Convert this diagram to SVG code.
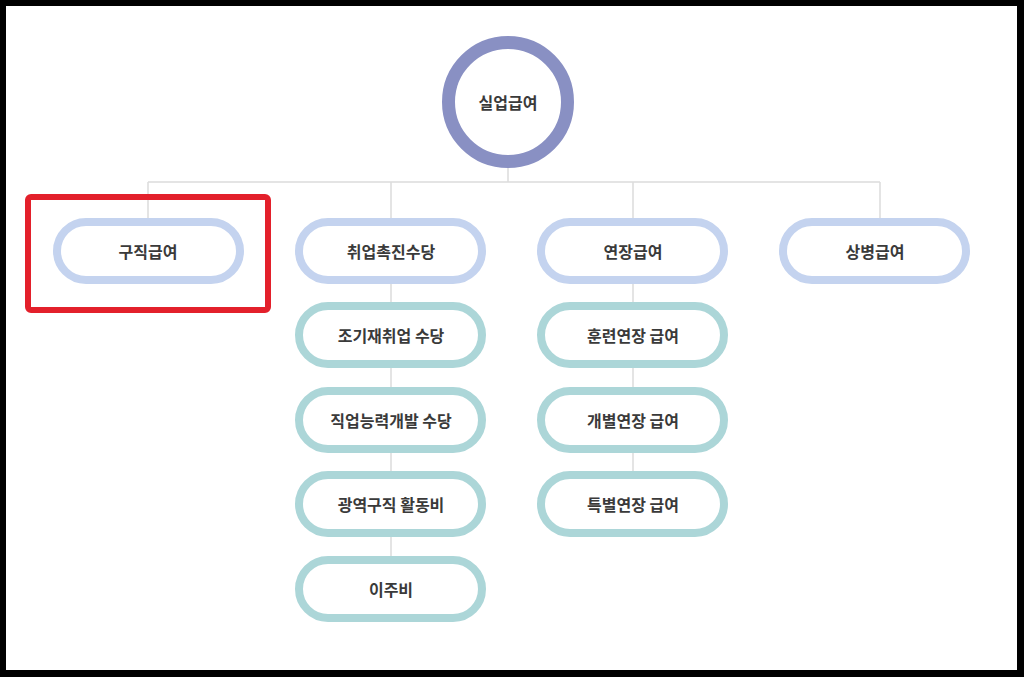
<svg xmlns="http://www.w3.org/2000/svg" width="1024" height="677" viewBox="0 0 1024 677">
<style>
.t{font-family:"Noto Sans CJK KR","Noto Sans",sans-serif;font-size:16px;font-weight:700;fill:#3a3a3a;text-anchor:middle;dominant-baseline:central}
.p1{fill:#fff;stroke:#c4d3ef;stroke-width:8}
.p2{fill:#fff;stroke:#acd6d8;stroke-width:8}
.c{stroke:#dcdcdc;stroke-width:1.5;fill:none}
</style>
<rect x="0" y="0" width="1024" height="677" fill="#000"/>
<rect x="6" y="6" width="1011" height="664" fill="#fff"/>
<g id="connectors">
<path class="c" d="M508 168V182M148 182H880M148 182V222M391 182V222M633 182V222M880 182V222"/>
<path class="c" d="M391 280V306M391 364V391M391 449V475M391 533V560"/>
<path class="c" d="M633 280V306M633 364V391M633 449V475"/>
</g>
<g id="root"><circle cx="508" cy="102" r="59.5" fill="#fff" stroke="#8990c3" stroke-width="13"/><text class="t" x="508" y="102">실업급여</text></g>
<g id="n1"><rect class="p1" x="57" y="222" width="183" height="58" rx="29"/><text class="t" x="148" y="251">구직급여</text></g>
<g id="n2"><rect class="p1" x="299" y="222" width="183" height="58" rx="29"/><text class="t" x="391" y="251">취업촉진수당</text></g>
<g id="n3"><rect class="p1" x="541" y="222" width="183" height="58" rx="29"/><text class="t" x="633" y="251">연장급여</text></g>
<g id="n4"><rect class="p1" x="783" y="222" width="183" height="58" rx="29"/><text class="t" x="875" y="251">상병급여</text></g>
<g id="n21"><rect class="p2" x="299" y="306" width="183" height="58" rx="29"/><text class="t" x="391" y="335">조기재취업 수당</text></g>
<g id="n22"><rect class="p2" x="299" y="391" width="183" height="58" rx="29"/><text class="t" x="391" y="420">직업능력개발 수당</text></g>
<g id="n23"><rect class="p2" x="299" y="475" width="183" height="58" rx="29"/><text class="t" x="391" y="504">광역구직 활동비</text></g>
<g id="n24"><rect class="p2" x="299" y="560" width="183" height="58" rx="29"/><text class="t" x="391" y="589">이주비</text></g>
<g id="n31"><rect class="p2" x="541" y="306" width="183" height="58" rx="29"/><text class="t" x="633" y="335">훈련연장 급여</text></g>
<g id="n32"><rect class="p2" x="541" y="391" width="183" height="58" rx="29"/><text class="t" x="633" y="420">개별연장 급여</text></g>
<g id="n33"><rect class="p2" x="541" y="475" width="183" height="58" rx="29"/><text class="t" x="633" y="504">특별연장 급여</text></g>
<g id="highlight"><rect x="28" y="197" width="240" height="113" rx="3" fill="none" stroke="#e3202b" stroke-width="6"/></g>
</svg>
